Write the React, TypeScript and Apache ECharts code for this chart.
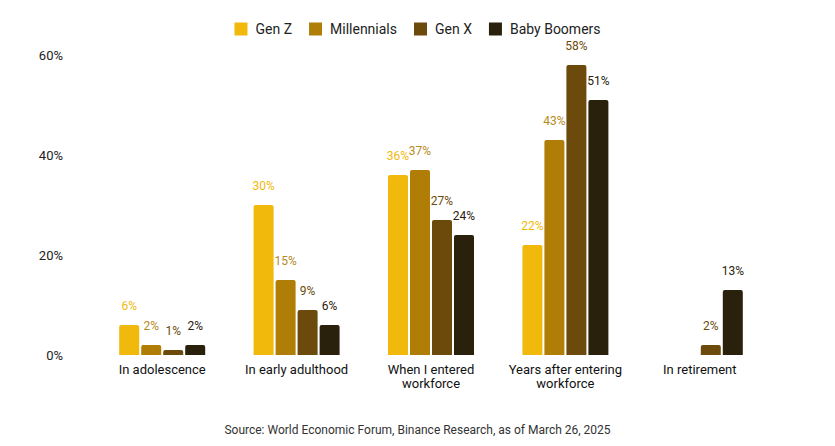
import React, { useEffect, useRef } from "react";
import * as echarts from "echarts";

const categories = [
  "In adolescence",
  "In early adulthood",
  "When I entered\nworkforce",
  "Years after entering\nworkforce",
  "In retirement",
];
const seriesNames = ["Gen Z", "Millennials", "Gen X", "Baby Boomers"];
const genZ = [6, 30, 36, 22, null];
const millennials = [2, 15, 37, 43, null];
const genX = [1, 9, 27, 58, 2];
const babyBoomers = [2, 6, 24, 51, 13];
const yTicks = [0, 20, 40, 60];
const colors = ["#F0B90B", "#B07E07", "#6B4A0B", "#2A210D"];
const labelColors = ["#F0B90B", "#B58A1C", "#6B4A0B", "#2A210D"];
const source = "Source: World Economic Forum, Binance Research, as of March 26, 2025";

export default function App() {
  const ref = useRef<HTMLDivElement>(null);
  useEffect(() => {
    if (!ref.current) return;
    const chart = echarts.init(ref.current, null, { renderer: "svg" });
    const data = [genZ, millennials, genX, babyBoomers];
    chart.setOption({
      animation: false,
      backgroundColor: "#ffffff",
      textStyle: { fontFamily: "Roboto, Arial, sans-serif" },
      legend: {
        top: 17,
        left: "center",
        itemWidth: 13,
        itemHeight: 13,
        itemGap: 17,
        icon: "rect",
        textStyle: { fontSize: 14, color: "#222", fontFamily: "Roboto, Arial, sans-serif", padding: [0, 0, 0, 3] },
        data: seriesNames,
      },
      grid: { left: 95, right: 68, top: 55, bottom: 91, containLabel: false },
      xAxis: {
        type: "category",
        data: categories,
        axisLine: { show: false },
        axisTick: { show: false },
        axisLabel: {
          interval: 0,
          fontSize: 13,
          color: "#111",
          margin: 7,
          lineHeight: 14,
          fontFamily: "Roboto, Arial, sans-serif",
        },
      },
      yAxis: {
        type: "value",
        min: 0,
        max: 60,
        interval: 20,
        splitLine: { show: false },
        axisLine: { show: false },
        axisTick: { show: false },
        axisLabel: {
          fontSize: 13,
          color: "#222",
          margin: 32,
          formatter: (v: number) => (yTicks.includes(v) ? v + "%" : ""),
        },
      },
      graphic: [
        {
          type: "text",
          left: "center",
          top: 424,
          style: {
            text: source,
            fontSize: 12,
            fill: "#333",
            fontFamily: "Roboto, sans-serif",
          },
        },
      ],
      series: seriesNames.map((name, i) => ({
        name,
        type: "bar",
        data: data[i],
        barWidth: 20,
        barGap: "10%",
        itemStyle: { color: colors[i], borderRadius: [2, 2, 0, 0] },
        label: {
          show: true,
          position: "top",
          distance: 13,
          fontSize: 12,
          color: labelColors[i],
          formatter: (p: any) => (p.value == null ? "" : p.value + "%"),
        },
      })),
    });
    return () => chart.dispose();
  }, []);
  return <div ref={ref} style={{ width: 835, height: 446, position: "absolute", left: 0, top: 0 }} />;
}
